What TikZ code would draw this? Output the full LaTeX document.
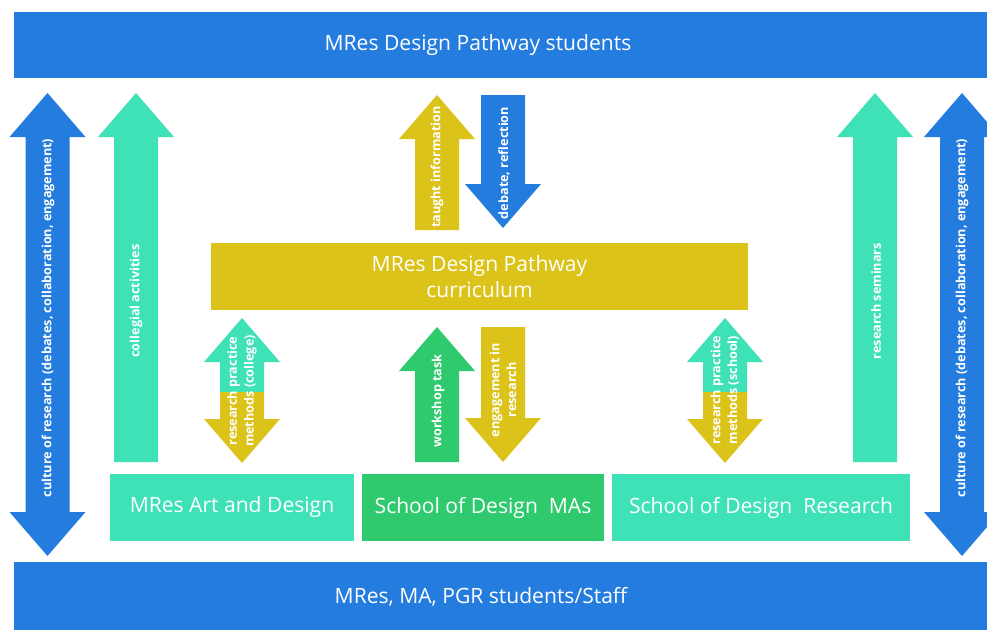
\documentclass[tikz,border=0pt]{standalone}
\usepackage{fontspec}
\setmainfont{Open Sans}

\definecolor{barblue}{RGB}{36,124,222}
\definecolor{mint}{RGB}{62,226,182}
\definecolor{gold}{RGB}{220,195,25}
\definecolor{leaf}{RGB}{48,202,110}

\tikzset{
    boxtext/.style={text=white, font=\fontsize{12}{14.5}\selectfont, align=center},
    panel/.style={fill=#1, inner sep=0pt, minimum height=1.34cm},
    arrowtext/.style={text=white, font=\bfseries\fontsize{7.2}{9.6}\selectfont,
        rotate=90, align=center, inner sep=0pt},
}

\begin{document}
\begin{tikzpicture}[x=0.02cm, y=-0.02cm]
    \def\shaft{22}
    \def\headw{38}
    \def\headlen{44}

    \useasboundingbox (0,0) rectangle (987,629);
    \clip (0,0) rectangle (987,629);

    % Top and bottom bars
    \fill[barblue] (14,12) rectangle (1000,78);
    \node[boxtext] (students) at (478,45) {MRes Design Pathway students};
    \fill[barblue] (14,562) rectangle (1000,640);
    \node[boxtext] (staff) at (481,597) {MRes, MA, PGR students/Staff};

    % Boxes
    \node[panel=gold, minimum width=10.74cm, boxtext] (curric) at (479.5,276.5)
        {MRes Design Pathway\\curriculum};
    \node[panel=mint, minimum width=4.88cm, boxtext] (artdesign) at (232,507.5)
        {MRes Art and Design};
    \node[panel=leaf, minimum width=4.84cm, boxtext] (sdmas) at (483,507.5)
        {School of Design\ \ MAs};
    \node[panel=mint, minimum width=5.96cm, boxtext] (sdresearch) at (761,507.5)
        {School of Design\ \ Research};

    % Up arrows
    \foreach \cx/\ytip/\ybot/\col in {136/93/462/mint, 875/93/462/mint,
                                      437/95/230/gold, 437/327/462/leaf} {
        \fill[\col]
            ({\cx-\shaft},\ybot) -- ({\cx-\shaft},{\ytip+\headlen})
            -- ({\cx-\headw},{\ytip+\headlen}) -- (\cx,\ytip)
            -- ({\cx+\headw},{\ytip+\headlen}) -- ({\cx+\shaft},{\ytip+\headlen})
            -- ({\cx+\shaft},\ybot) -- cycle;
    }

    % Down arrows
    \foreach \cx/\ytop/\ytip/\col in {503/95/228/barblue, 503/327/462/gold} {
        \fill[\col]
            ({\cx-\shaft},\ytop) -- ({\cx-\shaft},{\ytip-\headlen})
            -- ({\cx-\headw},{\ytip-\headlen}) -- (\cx,\ytip)
            -- ({\cx+\headw},{\ytip-\headlen}) -- ({\cx+\shaft},{\ytip-\headlen})
            -- ({\cx+\shaft},\ytop) -- cycle;
    }

    % Double arrows (upper half, lower half)
    \foreach \cx/\ytop/\ysplit/\ybot/\colA/\colB in {47.5/93/318/556/barblue/barblue,
                                                    962/93/318/556/barblue/barblue,
                                                    242/318/392/463/mint/gold,
                                                    725/318/392/463/mint/gold} {
        \fill[\colA]
            ({\cx-\shaft},{\ysplit+0.5}) -- ({\cx-\shaft},{\ytop+\headlen})
            -- ({\cx-\headw},{\ytop+\headlen}) -- (\cx,\ytop)
            -- ({\cx+\headw},{\ytop+\headlen}) -- ({\cx+\shaft},{\ytop+\headlen})
            -- ({\cx+\shaft},{\ysplit+0.5}) -- cycle;
        \fill[\colB]
            ({\cx-\shaft},\ysplit) -- ({\cx-\shaft},{\ybot-\headlen})
            -- ({\cx-\headw},{\ybot-\headlen}) -- (\cx,\ybot)
            -- ({\cx+\headw},{\ybot-\headlen}) -- ({\cx+\shaft},{\ybot-\headlen})
            -- ({\cx+\shaft},\ysplit) -- cycle;
    }

    % Arrow labels
    \node[arrowtext] (culturel) at (48,318)
        {culture of research (debates, collaboration, engagement)};
    \node[arrowtext] (culturer) at (962,318)
        {culture of research (debates, collaboration, engagement)};
    \node[arrowtext] (collegial) at (136,301) {collegial activities};
    \node[arrowtext] (seminars) at (876,301) {research seminars};
    \node[arrowtext] (taught) at (437,167) {taught information};
    \node[arrowtext] (debate) at (504,163) {debate, reflection};
    \node[arrowtext] (collegemethods) at (242,391)
        {research practice\\methods (college)};
    \node[arrowtext] (workshop) at (438,401) {workshop task};
    \node[arrowtext] (engagement) at (503,390) {engagement in\\research};
    \node[arrowtext] (schoolmethods) at (725,390)
        {research practice\\methods (school)};

\end{tikzpicture}
\end{document}
